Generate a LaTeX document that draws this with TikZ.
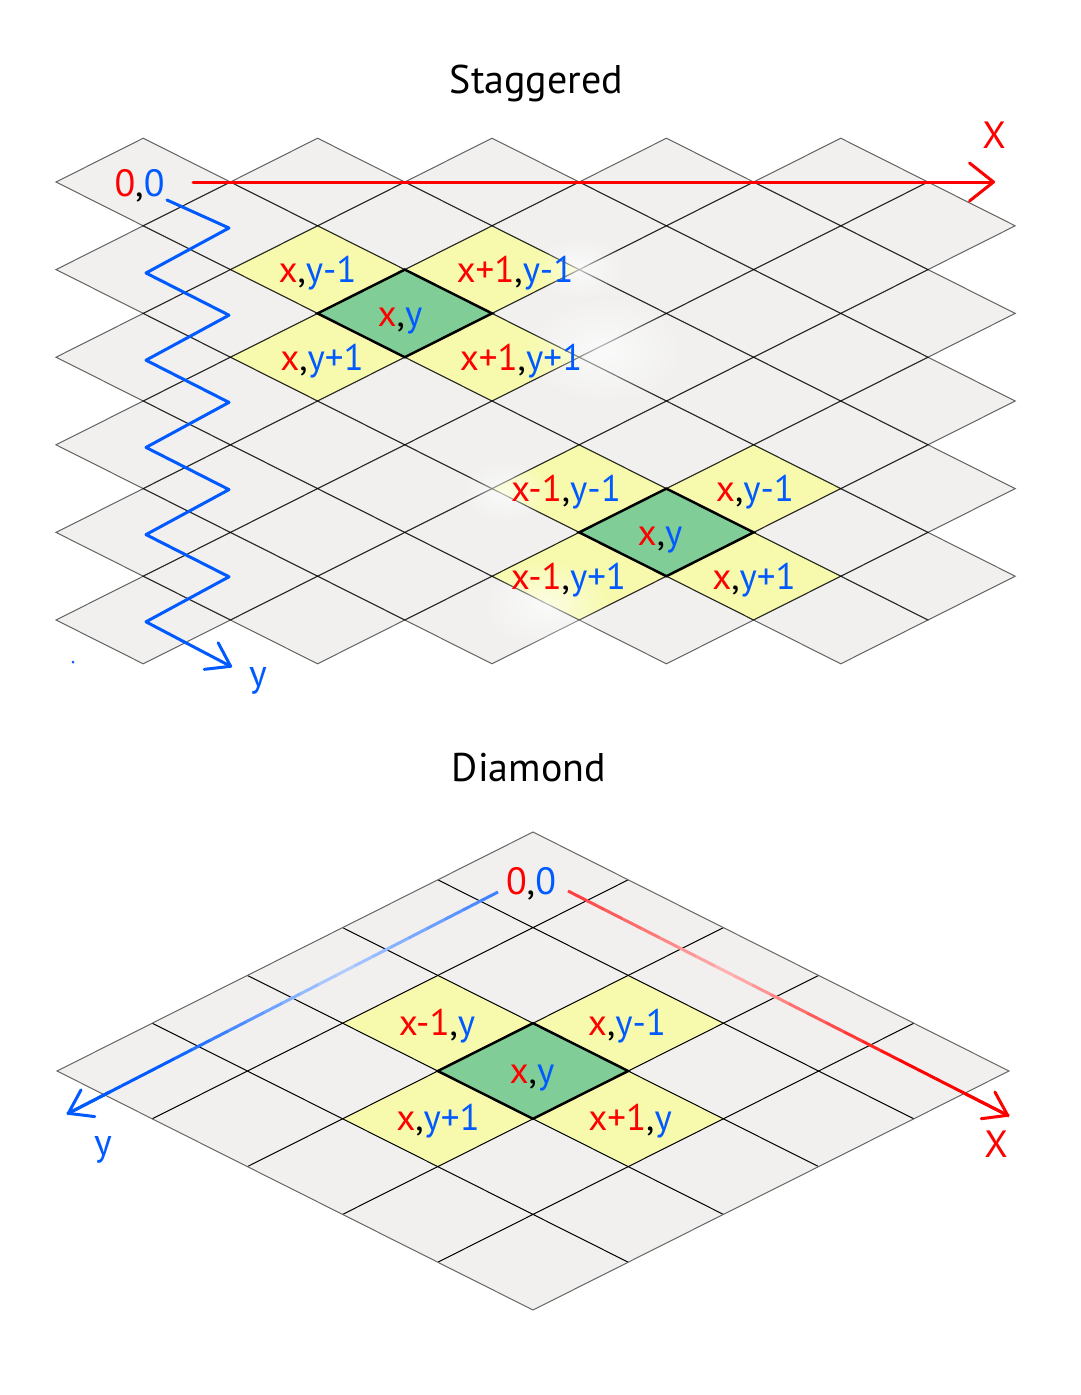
\documentclass[tikz,border=0pt]{standalone}
\usepackage{fontspec}
\setmainfont{PT Sans}
\usetikzlibrary{arrows.meta, calc, fadings}
\definecolor{axRed}{RGB}{255,0,0}
\definecolor{axBlue}{RGB}{0,90,255}
\definecolor{tileGray}{RGB}{241,240,239}
\definecolor{tileYellow}{RGB}{247,250,172}
\definecolor{tileGreen}{RGB}{128,205,152}
\tikzfading[name=softglow, inner color=transparent!0, outer color=transparent!100]
\newcommand{\xr}[1]{\textcolor{axRed}{#1}}
\newcommand{\yb}[1]{\textcolor{axBlue}{#1}}
% staggered tile centred at (cx,cy)
\newcommand{\stile}[3][]{\path[#1] (#2-87.2,#3) -- ++(87.2,-43.8) -- ++(87.2,43.8) -- ++(-87.2,43.8) -- cycle;}
% diamond tile (i,j) in the skewed scope
\newcommand{\dtile}[3][]{\path[#1] (#2,#3) -- ++(1,0) -- ++(0,1) -- ++(-1,0) -- cycle;}

\begin{document}
\begin{tikzpicture}[x=1pt, y=-1pt,
    lbl/.style={font=\fontsize{37}{44}\selectfont, anchor=base, yshift=-13pt, inner sep=0pt},
    orglbl/.style={font=\fontsize{38}{44}\selectfont, anchor=base, inner sep=0pt},
    ttl/.style={font=\fontsize{40}{48}\selectfont, anchor=base, inner sep=0pt},
    axlbl/.style={font=\fontsize{38}{44}\selectfont, inner sep=0pt},
    axline/.style={line width=3pt, line cap=round, line join=round},
    bigtip/.style={-{Straight Barb[length=24pt, width=38pt, round]}},
    smalltip/.style={-{Straight Barb[length=22pt, width=30pt, round]}},
    glow/.style={white, opacity=0.7, path fading=softglow}]
\useasboundingbox (0,0) rectangle (1080,1395);

\node[ttl] (ttlStag) at (536.5,93) {Staggered};
\node[ttl] (ttlDiam) at (529,781) {Diamond};

% staggered map
\foreach \r in {0,...,10}{
  \foreach \k in {0,...,4}{
    \pgfmathsetmacro{\cx}{143.2+174.4*\k+87.2*mod(\r,2)}
    \pgfmathsetmacro{\cy}{182+43.8*\r}
    \stile[fill=tileGray]{\cx}{\cy}
  }
}
\foreach \cx/\cy in {317.6/269.6, 492/269.6, 317.6/357.2, 492/357.2,
                     579.2/488.6, 753.6/488.6, 579.2/576.2, 753.6/576.2}{
  \stile[fill=tileYellow]{\cx}{\cy}
}
\foreach \cx/\cy in {404.8/313.4, 666.4/532.4}{
  \stile[fill=tileGreen]{\cx}{\cy}
}
\foreach \r in {0,...,10}{
  \foreach \k in {0,...,4}{
    \pgfmathsetmacro{\cx}{143.2+174.4*\k+87.2*mod(\r,2)}
    \pgfmathsetmacro{\cy}{182+43.8*\r}
    \stile[draw=black, draw opacity=0.6, line width=1pt]{\cx}{\cy}
  }
}
\foreach \cx/\cy in {404.8/313.4, 666.4/532.4}{
  \stile[draw=black, line width=2.5pt]{\cx}{\cy}
}

\fill[glow] (605,350) ellipse (80 and 55);
\fill[glow] (580,268) ellipse (45 and 32);
\fill[glow] (505,492) ellipse (45 and 32);
\fill[glow] (545,605) ellipse (65 and 45);

\coordinate (sxs) at (193,182);
\coordinate (sxe) at (995,182);
\draw[axline, axRed, bigtip] (sxs) -- (sxe);
\coordinate (zzs) at (167,200);
\coordinate (zze) at (232,667);
\draw[axline, axBlue, smalltip] (zzs)
  \foreach \j in {0,...,4}{ -- (229,{228+87.2*\j}) -- (146,{273+87.2*\j}) } -- (zze);
\fill[axBlue] (73,662) circle (1.5);

\node[orglbl] (orgS) at (139.5,196) {\xr{0},\yb{0}};
\node[axlbl, axRed] (lblSX) at (994,135) {X};
\node[axlbl, axBlue] (lblSY) at (258,681) {y};

\node[lbl] (sA) at (317.6,269.6) {\xr{x},\yb{y-1}};
\node[lbl] (sB) at (515,269.6) {\xr{x+1},\yb{y-1}};
\node[lbl] (sC) at (400,313.4) {\xr{x},\yb{y}};
\node[lbl] (sD) at (322,357.2) {\xr{x},\yb{y+1}};
\node[lbl] (sE) at (521,357.2) {\xr{x+1},\yb{y+1}};
\node[lbl] (sF) at (566,488.6) {\xr{x-1},\yb{y-1}};
\node[lbl] (sG) at (755,488.6) {\xr{x},\yb{y-1}};
\node[lbl] (sH) at (660,532.4) {\xr{x},\yb{y}};
\node[lbl] (sI) at (568.5,576.2) {\xr{x-1},\yb{y+1}};
\node[lbl] (sJ) at (754,576.2) {\xr{x},\yb{y+1}};

% diamond map
\begin{scope}[shift={(533,832)}, x={(95.2pt,-47.8pt)}, y={(-95.2pt,-47.8pt)}]
  \path[fill=tileGray] (0,0) -- (5,0) -- (5,5) -- (0,5) -- cycle;
  \foreach \i/\j in {1/2, 2/1, 3/2, 2/3}{
    \dtile[fill=tileYellow]{\i}{\j}
  }
  \dtile[fill=tileGreen]{2}{2}
  \foreach \i in {1,...,4}{
    \draw[black, line width=1pt] (\i,0) -- (\i,5) (0,\i) -- (5,\i);
  }
  \draw[black!60, line width=1pt] (0,0) -- (5,0) -- (5,5) -- (0,5) -- cycle;
  \dtile[draw=black, line width=2.5pt]{2}{2}
\end{scope}

\coordinate (dxs) at (568,891);
\coordinate (dxe) at (1009,1116);
\coordinate (dys) at (498,892);
\coordinate (dye) at (67,1114);
\foreach \i in {0,...,23}{
  \pgfmathsetmacro{\fr}{\i/24}
  \pgfmathtruncatemacro{\pct}{\fr<0.35 ? 75-\fr*130 : min(100, 30+(\fr-0.35)*175)}
  \draw[line width=3pt, axRed!\pct!white] ($(dxs)!\fr!(dxe)$) -- ($(dxs)!{(\i+1)/24}!(dxe)$);
  \draw[line width=3pt, axBlue!\pct!white] ($(dys)!\fr!(dye)$) -- ($(dys)!{(\i+1)/24}!(dye)$);
}
\draw[axline, axRed, smalltip] ($(dxs)!0.9!(dxe)$) -- (dxe);
\draw[axline, axBlue, smalltip] ($(dys)!0.9!(dye)$) -- (dye);

\node[orglbl] (orgD) at (531,894) {\xr{0},\yb{0}};
\node[axlbl, axRed] (lblDX) at (996,1144) {X};
\node[axlbl, axBlue] (lblDY) at (103,1150) {y};

\node[lbl] (dA) at (437,1022.2) {\xr{x-1},\yb{y}};
\node[lbl] (dB) at (627,1022.2) {\xr{x},\yb{y-1}};
\node[lbl] (dC) at (532,1070) {\xr{x},\yb{y}};
\node[lbl] (dD) at (438,1117.8) {\xr{x},\yb{y+1}};
\node[lbl] (dE) at (630,1117.8) {\xr{x+1},\yb{y}};
\end{tikzpicture}
\end{document}
